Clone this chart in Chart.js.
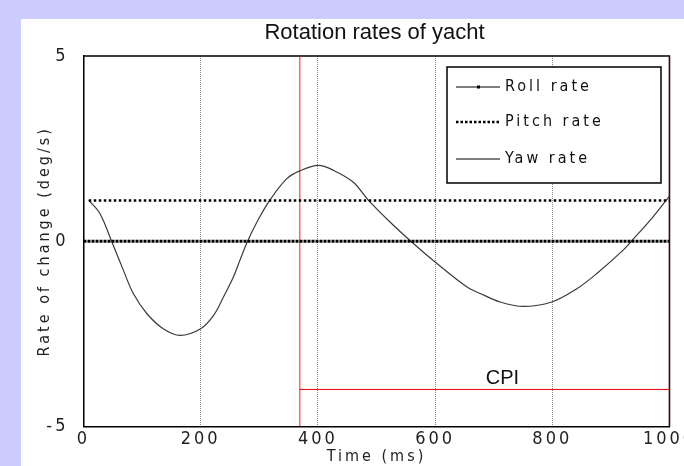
<!DOCTYPE html>
<html>
<head>
<meta charset="utf-8">
<script src="https://cdn.jsdelivr.net/npm/chart.js@4.4.1/dist/chart.umd.min.js"></script>
<style>
  html, body { margin: 0; padding: 0; background: #ccccff; overflow: hidden; }
  #wrap { position: absolute; left: 21px; top: 19px; width: 663px; height: 447px; background: #fff; }
</style>
</head>
<body>
<div id="wrap"><canvas id="chart" width="663" height="447"></canvas></div>
<script>
// values
const rollTime = [0, 1000];
const rollRate = [0, 0];
const pitchTime = [9, 1000];
const pitchRate = [1.1, 1.1];
const yawTime = [9, 28, 48, 68, 85, 108, 136, 165, 200, 222, 239, 256, 267, 280, 296, 318, 347, 369,
  401, 426, 460, 486, 523, 560, 600, 654, 677, 711, 750, 799, 842, 876, 921, 935, 972, 1000];
const yawRate = [1.11, 0.75, 0, -0.78, -1.41, -1.95, -2.36, -2.54, -2.36, -2.0, -1.5, -0.96, -0.51, 0, 0.52, 1.11, 1.69, 1.9,
  2.05, 1.92, 1.6, 1.11, 0.52, -0.02, -0.56, -1.23, -1.41, -1.64, -1.76, -1.64, -1.28, -0.87, -0.24, 0, 0.66, 1.22];
const cpiStart = 369;
const cpiEnd = 1000;
const cpiLevel = -4;
const cpiLabel = 'CPI';
const cpiLabelAt = [715, -3.7];
const xTicks = [0, 200, 400, 600, 800, 1000];
const yTicks = [-5, 0, 5];
const yMin = -5, yMax = 5;

const pts = (xs, ys) => xs.map((x, i) => ({ x: x, y: ys[i] }));
const narrow = "'Liberation Sans Narrow', 'DejaVu Sans Condensed', sans-serif";
const SPACING = '3px';

const decor = {
  id: 'decor',
  beforeUpdate(chart) { chart.ctx.letterSpacing = SPACING; },
  beforeDraw(chart) { chart.ctx.letterSpacing = SPACING; },
  beforeDatasetsDraw(chart) {
    // top and right edges of the box
    const { ctx, chartArea: a } = chart;
    ctx.save();
    ctx.strokeStyle = '#000';
    ctx.lineWidth = 1.5;
    ctx.beginPath();
    ctx.moveTo(a.left, a.top);
    ctx.lineTo(a.right, a.top);
    ctx.lineTo(a.right, a.bottom);
    ctx.stroke();
    ctx.restore();
  },
  afterDraw(chart) {
    const { ctx, chartArea: a, scales } = chart;
    ctx.save();
    ctx.letterSpacing = '0px';
    ctx.fillStyle = '#111';
    ctx.textAlign = 'center';
    ctx.textBaseline = 'middle';
    ctx.font = "22px 'Liberation Sans', Arial, sans-serif";
    ctx.fillText('Rotation rates of yacht', (a.left + a.right) / 2 - 2, 14);
    ctx.font = "20px 'Liberation Sans', Arial, sans-serif";
    ctx.fillText(cpiLabel, scales.x.getPixelForValue(cpiLabelAt[0]), scales.y.getPixelForValue(cpiLabelAt[1]));

    // legend box
    const lw = 214, lh = 116;
    const lx = a.right - 8.5 - lw, ly = a.top + 11;
    ctx.fillStyle = '#fff';
    ctx.fillRect(lx, ly, lw, lh);
    ctx.strokeStyle = '#000';
    ctx.lineWidth = 1.5;
    ctx.strokeRect(lx, ly, lw, lh);
    ctx.letterSpacing = SPACING;
    ctx.font = '16px ' + narrow;
    ctx.textAlign = 'left';
    const rows = [20, 55, 92];
    chart.data.datasets.slice(0, 3).forEach((ds, i) => {
      const y = ly + rows[i];
      ctx.save();
      ctx.strokeStyle = '#000';
      ctx.lineWidth = i === 1 ? 2.5 : 1;
      ctx.setLineDash(i === 1 ? [2.5, 2] : []);
      ctx.beginPath();
      ctx.moveTo(lx + 9, y);
      ctx.lineTo(lx + 53, y);
      ctx.stroke();
      ctx.restore();
      if (i === 0) {
        ctx.fillStyle = '#000';
        ctx.fillRect(lx + 30, y - 1.5, 3, 3);
      }
      ctx.fillStyle = '#111';
      ctx.fillText(ds.label, lx + 58, y);
    });
    ctx.restore();
  }
};

const ctx = document.getElementById('chart').getContext('2d');
new Chart(ctx, {
  type: 'line',
  data: {
    datasets: [
      { label: 'Roll rate', data: pts(rollTime, rollRate), borderColor: '#000', borderWidth: 3, borderDash: [3, 1], pointRadius: 0 },
      { label: 'Pitch rate', data: pts(pitchTime, pitchRate), borderColor: '#000', borderWidth: 2.5, borderDash: [2.5, 2.5], pointRadius: 0 },
      { label: 'Yaw rate', data: pts(yawTime, yawRate), borderColor: '#3a3a3a', borderWidth: 1.2, pointRadius: 0, tension: 0.35 },
      { label: '', data: pts([cpiStart, cpiStart], [yMin, yMax]), borderColor: 'rgba(255,0,0,0.6)', borderWidth: 1.5, pointRadius: 0 },
      { label: '', data: pts([cpiEnd, cpiEnd], [yMin, yMax]), borderColor: 'rgba(255,0,0,0.6)', borderWidth: 1.5, pointRadius: 0 },
      { label: '', data: pts([cpiStart, cpiEnd], [cpiLevel, cpiLevel]), borderColor: '#e00', borderWidth: 1, pointRadius: 0 }
    ]
  },
  options: {
    responsive: false,
    animation: false,
    devicePixelRatio: 1,
    layout: { padding: { left: 14, top: 37, right: 14.5, bottom: 0 } },
    plugins: { legend: { display: false }, title: { display: false }, tooltip: { enabled: false } },
    scales: {
      x: {
        type: 'linear',
        min: 0,
        max: 1000,
        afterBuildTicks: (s) => { s.ticks = xTicks.map(v => ({ value: v })); },
        afterFit: (s) => { s.height = 39.5; s.paddingLeft = 0; s.paddingRight = 0; },
        ticks: { color: '#222', font: { family: narrow, size: 18 }, padding: 2, maxRotation: 0, autoSkip: false,
          callback: (v) => String(v) },
        grid: {
          color: (c) => (c.tick && (c.tick.value === 0 || c.tick.value === 1000)) ? 'rgba(0,0,0,0)' : '#8a8a8a',
          lineWidth: 1,
          drawTicks: false
        },
        border: { color: '#000', width: 1.5, dash: [1, 1] },
        title: { display: true, text: 'Time (ms)', color: '#222', font: { family: narrow, size: 16 }, padding: 0 }
      },
      y: {
        min: yMin,
        max: yMax,
        afterBuildTicks: (s) => { s.ticks = yTicks.map(v => ({ value: v })); },
        afterFit: (s) => { s.width = 48.5; s.paddingTop = 0; s.paddingBottom = 0; },
        ticks: { color: '#222', font: { family: narrow, size: 18 }, padding: 7, callback: (v) => String(v) },
        grid: { display: false },
        border: { color: '#000', width: 1.5 },
        title: { display: true, text: 'Rate of change (deg/s)', color: '#222', font: { family: narrow, size: 16 }, padding: 0 }
      }
    }
  },
  plugins: [decor]
});
</script>
</body>
</html>
